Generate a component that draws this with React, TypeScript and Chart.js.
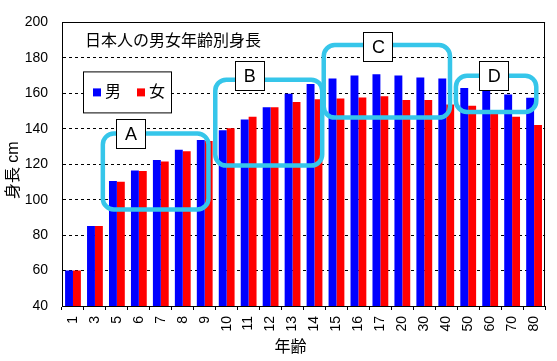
import React, { useEffect, useRef } from "react";
import { Chart, registerables } from "chart.js";

Chart.register(...registerables);

const categories = ["1", "3", "5", "6", "7", "8", "9", "10", "11", "12", "13", "14", "15", "16", "17", "20", "30", "40", "50", "60", "70", "80"];
const maleHeights = [60, 85.2, 110.5, 116.5, 122.4, 128.2, 133.7, 139.2, 145.2, 152.1, 159.8, 165.3, 168.4, 170.0, 170.7, 170.0, 168.9, 168.4, 163.0, 161.3, 159.3, 157.5];
const femaleHeights = [60, 85.2, 110.1, 116.1, 121.5, 127.3, 133.1, 140.3, 146.8, 152.1, 155.1, 156.6, 157.1, 157.7, 158.4, 156.2, 156.2, 153.7, 153.0, 148.6, 146.8, 142.1];
const seriesLabels = ["男", "女"];
const seriesColors = ["#0000FF", "#FF0000"];
const chartTitle = "日本人の男女年齢別身長";
const xAxisTitle = "年齢";
const yAxisTitle = "身長 cm";
const yTicks = { min: 40, max: 200, step: 20 };

// Group annotations in data units (category index range, height range, label anchor)
const groupLabels = ["A", "B", "C", "D"];
const groupIndexFrom = [1.36, 6.48, 11.42, 17.44];
const groupIndexTo = [6.17, 11.35, 17.17, 21.1];
const groupHeightFrom = [94.5, 119.2, 146.3, 149.5];
const groupHeightTo = [137.3, 167.7, 187.2, 169.9];
const groupLabelIndex = [2.64, 8.05, 13.91, 19.19];
const groupLabelHeight = [137.1, 169.9, 186.2, 169.6];

const FONT = "'Liberation Sans', Arial, 'Noto Sans CJK JP', sans-serif";

function roundRect(ctx: CanvasRenderingContext2D, x: number, y: number, w: number, h: number, r: number) {
  ctx.beginPath();
  ctx.moveTo(x + r, y);
  ctx.lineTo(x + w - r, y);
  ctx.arcTo(x + w, y, x + w, y + r, r);
  ctx.lineTo(x + w, y + h - r);
  ctx.arcTo(x + w, y + h, x + w - r, y + h, r);
  ctx.lineTo(x + r, y + h);
  ctx.arcTo(x, y + h, x, y + h - r, r);
  ctx.lineTo(x, y + r);
  ctx.arcTo(x, y, x + r, y, r);
  ctx.closePath();
}

const decorPlugin = {
  id: "decor",
  afterDatasetsDraw(chart: any) {
    const { ctx, chartArea: a, scales } = chart;
    const xs = scales.x;
    const ys = scales.y;
    ctx.save();

    // plot border
    ctx.strokeStyle = "#000";
    ctx.lineWidth = 1;
    ctx.setLineDash([]);
    ctx.strokeRect(Math.round(a.left) + 0.5, Math.round(a.top) + 0.5, Math.round(a.right - a.left) - 1, Math.round(a.bottom - a.top));

    // title
    ctx.fillStyle = "#000";
    ctx.font = `16px ${FONT}`;
    ctx.textAlign = "left";
    ctx.textBaseline = "middle";
    ctx.fillText(chartTitle, a.left + 23, a.top + 19);

    // legend
    const lx = a.left + 21;
    const ly = a.top + 49;
    ctx.fillStyle = "#fff";
    ctx.fillRect(lx, ly, 88, 41);
    ctx.strokeStyle = "#000";
    ctx.strokeRect(lx + 0.5, ly + 0.5, 88, 41);
    chart.data.datasets.forEach((ds: any, i: number) => {
      const ix = lx + 10 + i * 44;
      ctx.fillStyle = ds.backgroundColor;
      ctx.fillRect(ix, ly + 17, 8, 8);
      ctx.fillStyle = "#000";
      ctx.font = `16px ${FONT}`;
      ctx.textAlign = "left";
      ctx.textBaseline = "middle";
      ctx.fillText(ds.label, ix + 12, ly + 21);
    });

    // group boxes
    ctx.strokeStyle = "#36C6EA";
    ctx.lineWidth = 4.5;
    groupLabels.forEach((_, i) => {
      const x0 = xs.getPixelForValue(groupIndexFrom[i]);
      const x1 = xs.getPixelForValue(groupIndexTo[i]);
      const y0 = ys.getPixelForValue(groupHeightTo[i]);
      const y1 = ys.getPixelForValue(groupHeightFrom[i]);
      roundRect(ctx, x0, y0, x1 - x0, y1 - y0, 11);
      ctx.stroke();
    });
    groupLabels.forEach((lab, i) => {
      const cx = xs.getPixelForValue(groupLabelIndex[i]);
      const cy = ys.getPixelForValue(groupLabelHeight[i]);
      const bx = Math.round(cx - 15);
      const by = Math.round(cy - 15);
      ctx.fillStyle = "#fff";
      ctx.fillRect(bx, by, 30, 30);
      ctx.strokeStyle = "#000";
      ctx.lineWidth = 1;
      ctx.strokeRect(bx + 0.5, by + 0.5, 29, 29);
      ctx.fillStyle = "#000";
      ctx.font = `18px ${FONT}`;
      ctx.textAlign = "center";
      ctx.textBaseline = "middle";
      ctx.fillText(lab, cx, cy + 1);
    });

    // axis titles
    ctx.fillStyle = "#000";
    ctx.font = `16px ${FONT}`;
    ctx.textAlign = "center";
    ctx.textBaseline = "middle";
    ctx.fillText(xAxisTitle, (a.left + a.right) / 2 - 13, chart.height - 13);
    ctx.save();
    ctx.translate(14, (a.top + a.bottom) / 2 + 6);
    ctx.rotate(-Math.PI / 2);
    ctx.fillText(yAxisTitle, 0, 0);
    ctx.restore();

    ctx.restore();
  },
};

export default function App() {
  const ref = useRef<HTMLCanvasElement | null>(null);
  useEffect(() => {
    document.body.style.margin = "0";
    const canvas = ref.current;
    if (!canvas) return;
    Chart.defaults.font.family = FONT;
    const chart = new Chart(canvas, {
      type: "bar",
      data: {
        labels: categories,
        datasets: [
          { label: seriesLabels[0], data: maleHeights, backgroundColor: seriesColors[0], borderWidth: 0, categoryPercentage: 0.72, barPercentage: 1.0 },
          { label: seriesLabels[1], data: femaleHeights, backgroundColor: seriesColors[1], borderWidth: 0, categoryPercentage: 0.72, barPercentage: 1.0 },
        ],
      },
      options: {
        animation: false,
        responsive: false,
        devicePixelRatio: 1,
        layout: { padding: { top: 11, right: 5, left: 0, bottom: 0 } },
        plugins: { legend: { display: false }, title: { display: false }, tooltip: { enabled: false } },
        scales: {
          x: {
            type: "category",
            grid: { display: true, drawOnChartArea: false, drawTicks: true, tickLength: 4, color: "#000", offset: true },
            border: { display: true, color: "#000", width: 1 },
            ticks: { autoSkip: false, minRotation: 90, maxRotation: 90, padding: 6, color: "#000", font: { size: 14, family: FONT } },
            afterFit: (s: any) => { s.height = 55; },
          },
          y: {
            min: yTicks.min,
            max: yTicks.max,
            grid: { color: "#000", drawTicks: false, lineWidth: 1 },
            border: { display: true, color: "#000", width: 1, dash: [3, 3] },
            ticks: { stepSize: yTicks.step, padding: 14, color: "#000", font: { size: 14, family: FONT } },
            afterFit: (s: any) => { s.width = 62; },
          },
        },
      },
      plugins: [decorPlugin],
    } as any);
    return () => chart.destroy();
  }, []);
  return <canvas ref={ref} width={557} height={361} style={{ display: "block" }} />;
}
